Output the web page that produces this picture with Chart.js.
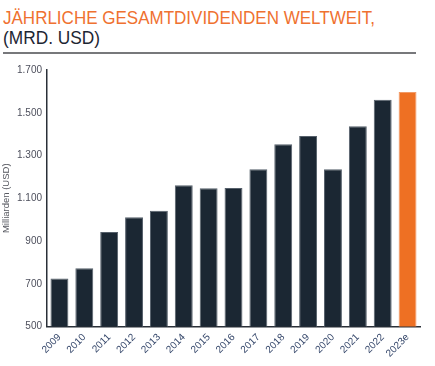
<!DOCTYPE html>
<html><head><meta charset="utf-8">
<script src="https://cdn.jsdelivr.net/npm/chart.js@4"></script>
<style>
html,body{margin:0;padding:0;background:#fff;width:435px;height:366px;overflow:hidden}
#t1,#t2{position:absolute;left:3px;white-space:nowrap;font-family:"Liberation Sans",Arial,sans-serif;font-weight:400;font-size:18px;line-height:1;transform-origin:0 0}
#t1{top:9px;color:#ef7130}
#t2{top:29px;color:#1d2633}
#rule{position:absolute;left:3px;top:52px;width:413px;height:2px;background:#77787b}
#c{position:absolute;left:0;top:0}
</style></head>
<body>
<div id="t1">JÄHRLICHE GESAMTDIVIDENDEN WELTWEIT,</div>
<div id="t2">(MRD. USD)</div>
<div id="rule"></div>
<canvas id="c" width="435" height="366"></canvas>
<script>
const categories = ["2009","2010","2011","2012","2013","2014","2015","2016","2017","2018","2019","2020","2021","2022","2023e"];
const dividends = [725, 772, 942, 1011, 1042, 1161, 1147, 1148, 1236, 1353, 1391, 1236, 1437, 1561, 1597];
const yTicks = [500, 700, 900, 1100, 1300, 1500, 1700];

function fit(id, w){const e=document.getElementById(id);const r=e.getBoundingClientRect().width;e.style.transform='scaleX('+(w/r)+')';}
fit('t1',372); fit('t2',97);

const dark='#1b2733', orange='#ee7023';
const sans='"Liberation Sans",Arial,sans-serif';
new Chart(document.getElementById('c'),{
  type:'bar',
  data:{labels:categories,datasets:[{
    data:dividends,
    backgroundColor:categories.map((c,i)=>i===categories.length-1?orange:dark),
    borderColor:categories.map((c,i)=>i===categories.length-1?'#f29a66':'#56606b'),
    borderWidth:1,
    categoryPercentage:0.8,barPercentage:0.9
  }]},
  options:{
    responsive:false,animation:false,
    layout:{padding:{top:70,right:15,left:0,bottom:0}},
    plugins:{legend:{display:false},tooltip:{enabled:false}},
    scales:{
      x:{
        grid:{display:false,drawTicks:false},
        border:{display:true,color:'#2a3038',width:1.5},
        ticks:{color:'#34466a',font:{family:sans,size:10},maxRotation:45,minRotation:45,autoSkip:false,padding:5},
        afterFit:s=>{s.height=39.5;}
      },
      y:{
        min:500,max:1700,
        afterBuildTicks:s=>{s.ticks=yTicks.map(v=>({value:v}));},
        grid:{display:false,drawTicks:false},
        border:{display:true,color:'#2a3038',width:1.5},
        ticks:{color:'#4d4f5c',font:{family:sans,size:10},padding:5,
          callback:v=>v.toLocaleString('de-DE')},
        title:{display:true,text:'Milliarden (USD)',color:'#55575f',font:{family:sans,size:9.5},padding:{top:1,bottom:0}},
        afterFit:s=>{s.width=47;}
      }
    }
  }
});
</script>
</body></html>
